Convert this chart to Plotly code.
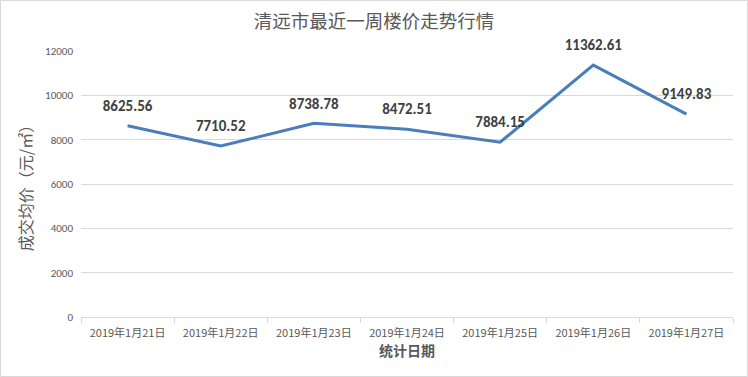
import plotly.graph_objects as go

dates = ["2019年1月21日", "2019年1月22日", "2019年1月23日", "2019年1月24日",
         "2019年1月25日", "2019年1月26日", "2019年1月27日"]
prices = [8625.56, 7710.52, 8738.78, 8472.51, 7884.15, 11362.61, 9149.83]
y_ticks = [0, 2000, 4000, 6000, 8000, 10000, 12000]

W, H = 748, 377
L, R, T, B = 81, 15, 51, 60
pw, ph = W - L - R, H - T - B

font_fam = "Carlito, Calibri, 'Noto Sans CJK SC', sans-serif"
cjk = "'Noto Sans CJK SC', sans-serif"

fig = go.Figure()
fig.add_trace(go.Scatter(
    x=dates, y=prices, mode="lines+markers+text",
    line=dict(color="#4A7EBB", width=3),
    marker=dict(size=16, opacity=0),
    text=[f"{v:.2f}" for v in prices],
    textposition="top center",
    textfont=dict(family=font_fam, size=15, color="#404040", weight="bold"),
    cliponaxis=False, hoverinfo="skip",
))

fig.update_layout(
    width=W, height=H,
    margin=dict(l=L, r=R, t=T, b=B),
    paper_bgcolor="white", plot_bgcolor="white",
    showlegend=False,
    title=dict(text="清远市最近一周楼价走势行情", x=0.5, xanchor="center",
               y=1 - 22 / H, yanchor="middle",
               font=dict(family=cjk, size=18.5, color="#595959")),
    font=dict(family=font_fam),
    shapes=[dict(type="rect", xref="paper", yref="paper",
                 x0=-(L - 0.5) / pw, x1=(W - L - 0.5) / pw,
                 y0=-(B - 0.5) / ph, y1=(H - B - 0.5) / ph,
                 line=dict(color="#D9D9D9", width=1))],
)

fig.update_xaxes(
    type="category", tickson="boundaries", ticks="outside", ticklen=5,
    tickcolor="#D9D9D9", showline=True, linecolor="#D9D9D9", linewidth=1,
    showgrid=False, range=[-0.5, 6.5], automargin=False, ticklabelstandoff=6,
    tickfont=dict(family=cjk, size=11, color="#595959"),
    title=dict(text="统计日期", standoff=6,
               font=dict(family=cjk, size=14, color="#595959", weight="bold")),
)
fig.update_yaxes(
    range=[0, 12000], tickvals=y_ticks, ticktext=[str(v) for v in y_ticks],
    showgrid=True, gridcolor="#D9D9D9", gridwidth=1, zeroline=False,
    showline=False, ticks="", automargin=False, ticklabelstandoff=7,
    tickfont=dict(family=font_fam, size=11, color="#595959"),
    title=dict(text="成交均价（元/㎡）", standoff=8,
               font=dict(family=cjk, size=16, color="#595959")),
)

fig.write_html("out.html", config={"displayModeBar": False},
               post_script="document.body.style.margin='0';")
